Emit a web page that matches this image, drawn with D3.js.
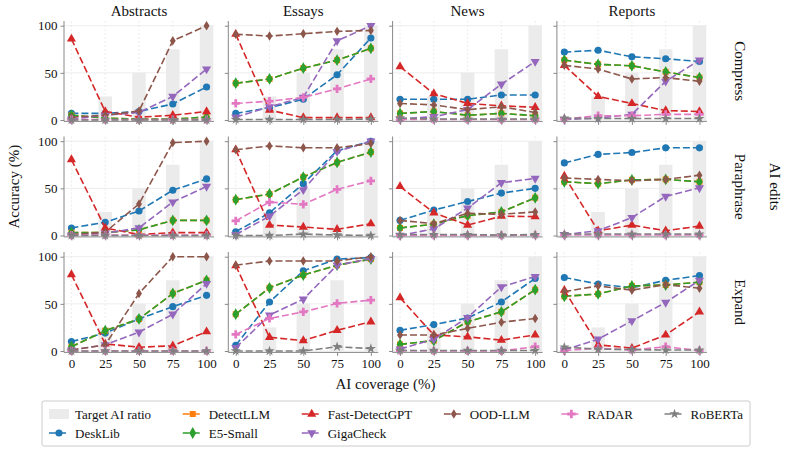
<!DOCTYPE html>
<html>
<head>
<meta charset="utf-8">
<script src="https://cdn.jsdelivr.net/npm/d3@7"></script>
<style>
  body { margin: 0; background: #fff; }
  svg text { font-family: "Liberation Serif", "Times New Roman", Times, serif; fill: #111; }
  .axis path, .axis line { stroke: #888; }
  .axis text { font-size: 13px; }
</style>
</head>
<body>
<svg id="chart" width="794" height="455"></svg>
<script>
// data: rows = AI edits (Compress, Paraphrase, Expand), cols = domains
const coverage = [0, 25, 50, 75, 100];
const domains = ["Abstracts", "Essays", "News", "Reports"];
const edits = ["Compress", "Paraphrase", "Expand"];
const targetRatio = [0, 25, 50, 75, 100];

const deskLib = [
  [[7, 7, 9, 17, 35], [7, 13, 22, 48, 87], [22, 22, 22, 26.5, 26.5], [72, 74, 67, 65, 62]],
  [[8, 14, 26, 48, 60], [4, 24, 55, 90, 100], [16, 27, 36, 45, 50], [77, 86, 88, 93, 93]],
  [[10, 19, 34, 47, 59], [6, 52, 85, 97.5, 99], [22, 28, 35, 52, 77], [78, 71, 67, 75, 80]]
];
const detectLLM = [
  [[5, 2, 1, 1, 3], [39, 43.5, 55, 63.5, 76], [7, 9, 5, 7, 4.5], [63.5, 59, 57.5, 51, 45]],
  [[3, 3, 6, 16, 16], [38, 44, 62, 77.5, 88.5], [8, 12, 21, 25, 40], [57, 55, 59, 59.5, 57]],
  [[4.5, 21.5, 34, 61, 75], [39, 67, 80.5, 91, 97.5], [7, 11, 31, 41.5, 65], [58, 60.5, 69, 70, 73]]
];
const e5Small = [
  [[5, 2, 1, 1, 3], [39, 43.5, 55, 63.5, 76], [7, 9, 5, 7, 4.5], [63.5, 59, 57.5, 51, 45]],
  [[3, 3, 6, 16, 16], [38, 44, 62, 77.5, 88.5], [8, 12, 21, 25, 40], [57, 55, 59, 59.5, 57]],
  [[4.5, 21.5, 34, 61, 75], [39, 67, 80.5, 91, 97.5], [7, 11, 31, 41.5, 65], [58, 60.5, 69, 70, 73]]
];
const fastDetectGPT = [
  [[86, 9, 3, 5, 9], [91, 10.5, 2.5, 2.5, 2.5], [56.5, 28, 17.5, 15, 13.5], [58, 25, 17.5, 10, 9]],
  [[80.5, 8, 1, 3, 3], [91, 11, 9, 6.5, 12.5], [52, 24, 11, 20.5, 20], [63, 5, 11, 5, 10]],
  [[81, 7.5, 4, 5.5, 20.5], [90.5, 14.5, 11, 22, 31], [56.5, 17, 15, 11.5, 17], [64.5, 6.5, 3, 17, 41.5]]
];
const gigaCheck = [
  [[1, 5, 8, 25, 54], [3, 14, 24, 84, 100], [1, 3.5, 11, 38, 62], [0.5, 2, 6, 41, 63.5]],
  [[0.5, 2.5, 8, 35.5, 52], [1, 20.5, 48.5, 89, 100], [0, 7, 29, 56, 60.5], [1, 5, 19, 41.5, 50.5]],
  [[1, 6.5, 20, 39, 71.5], [3.5, 38, 55, 91, 98], [2, 12.5, 35.5, 68, 79], [1, 12.5, 32, 51.5, 75]]
];
const oodLLM = [
  [[3, 5, 9.5, 84, 100], [91, 89, 91.5, 94, 95], [17.5, 16, 11, 14, 8], [58, 54, 43.5, 45, 41]],
  [[1, 3.5, 33.5, 98.5, 100], [91, 95, 93, 93, 97.5], [16, 12.5, 23.5, 22.5, 25], [61, 59.5, 58, 59.5, 64]],
  [[1, 6.5, 61, 100, 100], [91, 95.5, 95.5, 95.5, 100], [17, 17, 24, 30.5, 34.5], [63, 69, 64.5, 70.5, 66.5]]
];
const radar = [
  [[0.5, 0.5, 0.5, 0.5, 0.5], [17.5, 20, 24, 33, 43.5], [0.5, 0.5, 0.5, 0.5, 0.5], [1, 4.5, 4.5, 6, 6]],
  [[0.5, 0.5, 0.5, 0.5, 0.5], [15.5, 35.5, 33, 49, 58], [0, 0, 0, 0, 0.5], [0.5, 0.5, 0.5, 0.5, 0.5]],
  [[0, 0, 0, 0, 0], [17.5, 34.5, 41.5, 50.5, 54], [0.5, 0, 0, 0, 4.5], [0.5, 3, 1, 4.5, 0.5]]
];
const roberta = [
  [[0, 0, 0, 0, 0], [0.5, 0.5, 0.5, 0.5, 1], [2, 1, 1, 1, 1], [2, 1.5, 1.5, 1.5, 1.5]],
  [[0, 0, 0, 0, 0], [0, 0, 1.5, 0.5, 0], [1, 1, 1, 0.5, 1], [1.5, 1.5, 1.5, 1.5, 1.5]],
  [[0, 0, 0, 0, 0], [0, 0, 0, 4.5, 2.5], [0.5, 0.5, 0.5, 0.5, 0.5], [4, 2, 1.5, 1, 1]]
];

// thin diamond like matplotlib "d"
const thinDiamond = {
  draw(ctx, size) {
    const h = Math.sqrt(size) * 0.75, w = h * 0.62;
    ctx.moveTo(0, -h); ctx.lineTo(w, 0); ctx.lineTo(0, h); ctx.lineTo(-w, 0); ctx.closePath();
  }
};

const models = [
  { name: "DeskLib", values: deskLib, color: "#1f77b4", symbol: d3.symbolCircle, size: 40 },
  { name: "DetectLLM", values: detectLLM, color: "#ff7f0e", symbol: d3.symbolSquare, size: 36 },
  { name: "E5-Small", values: e5Small, color: "#2ca02c", symbol: d3.symbolDiamond, size: 40 },
  { name: "Fast-DetectGPT", values: fastDetectGPT, color: "#d62728", symbol: d3.symbolTriangle, size: 36 },
  { name: "GigaCheck", values: gigaCheck, color: "#9467bd", symbol: d3.symbolTriangle, size: 36, flip: true },
  { name: "OOD-LLM", values: oodLLM, color: "#8c564b", symbol: thinDiamond, size: 40 },
  { name: "RADAR", values: radar, color: "#e377c2", symbol: d3.symbolCross, size: 38 },
  { name: "RoBERTa", values: roberta, color: "#7f7f7f", symbol: d3.symbolStar, size: 32 }
];

const svg = d3.select("#chart");
const plotLeft = 64, plotTop = 21, panelW = 150, panelH = 100.4, gapX = 14.3, gapY = 15.1;
const dash = "7,3";

const x = d3.scaleLinear().domain([-5.5, 105.5]).range([0, panelW]);
const y = d3.scaleLinear().domain([-1.5, 105]).range([panelH, 0]);

const line = d3.line()
  .x((d, i) => x(coverage[i]))
  .y(d => y(d));

function markerPath(m) {
  return d3.symbol().type(m.symbol).size(m.size)();
}

edits.forEach((edit, r) => {
  domains.forEach((dom, c) => {
    const g = svg.append("g")
      .attr("transform", `translate(${plotLeft + c * (panelW + gapX)},${plotTop + r * (panelH + gapY)})`);

    // grid
    g.append("g").selectAll("line").data([0, 50, 100]).join("line")
      .attr("x1", 0).attr("x2", panelW)
      .attr("y1", d => y(d)).attr("y2", d => y(d))
      .attr("stroke", "#e8e8e8").attr("stroke-width", 0.8);
    g.append("g").selectAll("line").data(coverage).join("line")
      .attr("x1", d => x(d)).attr("x2", d => x(d))
      .attr("y1", 0).attr("y2", panelH)
      .attr("stroke", "#e8e8e8").attr("stroke-width", 0.8)
      .attr("stroke-dasharray", "2,2");

    // target AI ratio bars
    g.append("g").selectAll("rect").data(targetRatio).join("rect")
      .attr("x", (d, i) => x(coverage[i] - 5))
      .attr("width", x(10) - x(0))
      .attr("y", d => y(d))
      .attr("height", d => y(0) - y(d))
      .attr("fill", "#ebebeb");

    // series
    models.forEach(m => {
      const vals = m.values[r][c];
      g.append("path")
        .datum(vals)
        .attr("d", line)
        .attr("fill", "none")
        .attr("stroke", m.color)
        .attr("stroke-width", 1.6)
        .attr("stroke-dasharray", dash);
      g.append("g").selectAll("path").data(vals).join("path")
        .attr("d", markerPath(m))
        .attr("transform", (d, i) => `translate(${x(coverage[i])},${y(d)})` + (m.flip ? " rotate(180)" : ""))
        .attr("fill", m.color);
    });

    // axes
    const ya = g.append("g").attr("class", "axis")
      .call(d3.axisLeft(y).tickValues([0, 50, 100]).tickSize(3.5).tickPadding(3));
    ya.attr("font-family", null).attr("font-size", null);
    ya.select(".domain").attr("d", `M0,0V${panelH}`);
    if (c > 0) ya.selectAll("text").remove();

    const xa = g.append("g").attr("class", "axis")
      .attr("transform", `translate(0,${panelH})`)
      .call(d3.axisBottom(x).tickValues(coverage).tickSize(3.5).tickPadding(3));
    xa.attr("font-family", null).attr("font-size", null);
    xa.select(".domain").attr("d", `M0,0H${panelW}`);
    if (r < edits.length - 1) xa.selectAll("text").remove();

    if (r === 0) {
      g.append("text")
        .attr("x", panelW / 2).attr("y", -5)
        .attr("text-anchor", "middle")
        .style("font-size", "15px")
        .text(dom);
    }
    if (c === domains.length - 1) {
      g.append("text")
        .attr("transform", `translate(${panelW + 28},${panelH / 2}) rotate(90)`)
        .attr("text-anchor", "middle")
        .style("font-size", "15px")
        .text(edit);
    }
  });
});

const plotBottom = plotTop + 3 * panelH + 2 * gapY;
const plotRight = plotLeft + 4 * panelW + 3 * gapX;

svg.append("text")
  .attr("transform", `translate(19,${(plotTop + plotBottom) / 2}) rotate(-90)`)
  .attr("text-anchor", "middle")
  .style("font-size", "15px")
  .text("Accuracy (%)");

svg.append("text")
  .attr("x", (plotLeft + plotRight) / 2).attr("y", 389)
  .attr("text-anchor", "middle")
  .style("font-size", "15px")
  .text("AI coverage (%)");

svg.append("text")
  .attr("transform", `translate(770,${(plotTop + plotBottom) / 2}) rotate(90)`)
  .attr("text-anchor", "middle")
  .style("font-size", "15px")
  .text("AI edits");

// legend: 6 columns, filled column by column like matplotlib (ncol=6)
const legendX = 42, legendY = 401, legendW = 708, legendH = 45;
const legend = svg.append("g").attr("transform", `translate(${legendX},${legendY})`);
legend.append("rect")
  .attr("width", legendW).attr("height", legendH)
  .attr("fill", "#fff").attr("stroke", "#ccc").attr("rx", 2);

const entries = [{ name: "Target AI ratio", bar: true }].concat(models);
const nCol = 6, handleLen = 20, handlePad = 6, borderPad = 7;
const perCol = [2, 2, 2, 1, 1, 1];
const columns = [];
let k = 0;
perCol.forEach(n => { columns.push(entries.slice(k, k + n)); k += n; });

const groups = columns.map(col => col.map((e, row) => {
  const eg = legend.append("g");
  if (e.bar) {
    eg.append("rect").attr("x", 0).attr("y", -5).attr("width", handleLen).attr("height", 10).attr("fill", "#ebebeb");
  } else {
    eg.append("line").attr("x1", 0).attr("x2", handleLen).attr("y1", 0).attr("y2", 0)
      .attr("stroke", e.color).attr("stroke-width", 1.6).attr("stroke-dasharray", dash);
    eg.append("path").attr("d", markerPath(e))
      .attr("transform", `translate(${handleLen / 2},0)` + (e.flip ? " rotate(180)" : ""))
      .attr("fill", e.color);
  }
  const t = eg.append("text").attr("x", handleLen + handlePad).attr("y", 4.5)
    .style("font-size", "13px")
    .text(e.name);
  return { eg, row, w: handleLen + handlePad + t.node().getComputedTextLength() };
}));

const colWidths = groups.map(col => d3.max(col, d => d.w));
const colSpacing = (legendW - 2 * borderPad - d3.sum(colWidths)) / (nCol - 1);
let cx = borderPad;
groups.forEach((col, ci) => {
  col.forEach(d => d.eg.attr("transform", `translate(${cx},${13 + d.row * 19})`));
  cx += colWidths[ci] + colSpacing;
});
</script>
</body>
</html>
